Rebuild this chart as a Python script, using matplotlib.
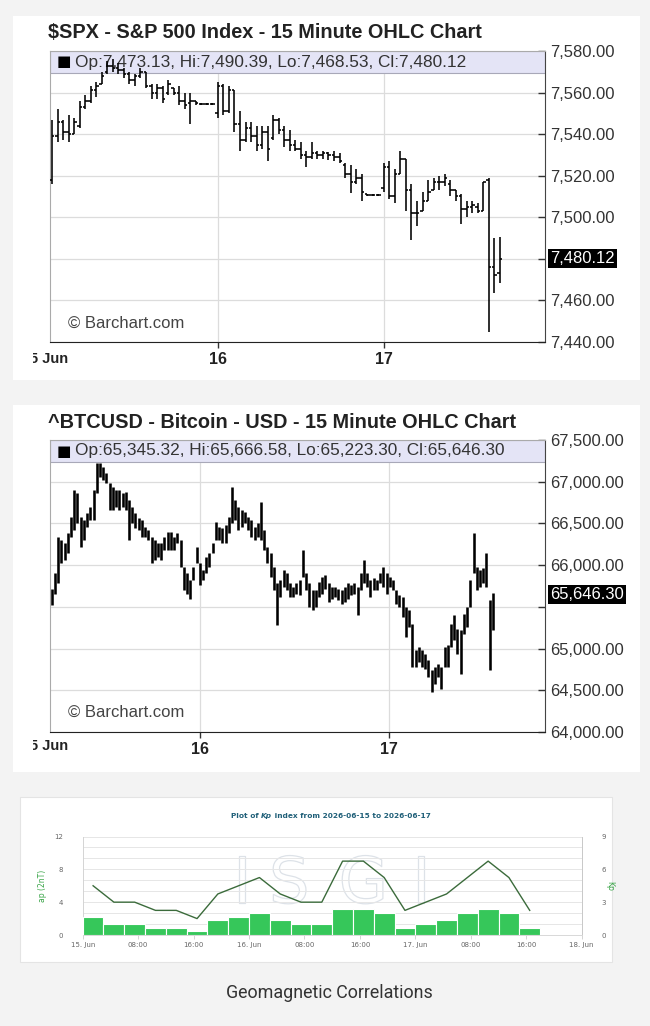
import matplotlib
matplotlib.use('Agg')
import matplotlib.pyplot as plt
from matplotlib.patches import Rectangle
from matplotlib.transforms import Bbox, blended_transform_factory
import matplotlib.patheffects as pe
import numpy as np

# ---------------- data ----------------
spx_open = [7518, 7539, 7546, 7541, 7540, 7544, 7553, 7556, 7561, 7564,
            7570, 7573, 7572, 7571, 7569, 7566, 7568, 7570, 7563, 7560,
            7562, 7560, 7562, 7560, 7556, 7555, 7556, 7554.5, 7554.5, 7554.5,
            7550, 7563, 7551, 7561, 7545, 7537, 7543, 7539, 7535, 7541,
            7538, 7547, 7542, 7537, 7535, 7533, 7530, 7529, 7531, 7530,
            7531, 7530, 7529, 7525, 7521, 7517, 7519, 7511, 7510.5, 7510.5,
            7514, 7524, 7510, 7521, 7528, 7513, 7502, 7503, 7508, 7513,
            7517, 7517, 7516, 7513, 7510, 7504, 7505, 7505, 7503, 7518,
            7476, 7473.13]
spx_high = [7547, 7552, 7547, 7549, 7548, 7556, 7559, 7563, 7565, 7570,
            7575, 7576, 7574, 7572, 7570, 7569, 7572, 7570, 7564, 7564,
            7563, 7566, 7562, 7563, 7560, 7560, 7556, 7555, 7555, 7555,
            7565, 7564, 7563, 7561, 7551, 7546, 7546, 7544, 7544, 7544,
            7549, 7548, 7544, 7542, 7537, 7536, 7532, 7536, 7532, 7532,
            7531.6, 7532, 7531, 7526, 7525, 7523, 7521, 7511, 7511, 7511,
            7526, 7527, 7523, 7532, 7528, 7516, 7508, 7512, 7518, 7519,
            7520, 7521, 7518, 7513, 7511, 7508, 7508, 7507, 7517, 7519,
            7490, 7490.39]
spx_low = [7516, 7536, 7537, 7536, 7540, 7543, 7552, 7555, 7558, 7564,
           7569, 7570, 7569, 7567, 7564, 7563, 7567, 7562, 7557, 7557,
           7555, 7559, 7559, 7554, 7552, 7545, 7554, 7554, 7554, 7554,
           7548, 7549, 7550, 7541, 7532, 7536, 7536, 7532, 7533, 7527,
           7537, 7540, 7534, 7532, 7532, 7528, 7524, 7528, 7528, 7528,
           7527.6, 7527, 7526, 7519, 7511.5, 7516, 7508, 7510, 7510, 7510,
           7512, 7509, 7507, 7521, 7503, 7489, 7496, 7503, 7508, 7513,
           7513, 7515, 7510, 7508, 7497, 7500, 7502, 7502, 7503, 7445,
           7463.5, 7468.53]
spx_close = [7539, 7546, 7541, 7540, 7546, 7553, 7556, 7561, 7563, 7568,
             7573, 7572, 7571, 7569, 7566, 7568, 7570, 7563, 7560, 7562,
             7557, 7564, 7560, 7556, 7554, 7556, 7555, 7554.5, 7554.5, 7554.5,
             7563, 7551, 7561, 7545, 7537, 7543, 7539, 7535, 7541, 7533,
             7547, 7542, 7537, 7535, 7533, 7530, 7529, 7531, 7530, 7531,
             7530, 7529, 7527, 7521, 7517, 7519, 7512, 7510.5, 7510.5, 7510.5,
             7524, 7510, 7521, 7528, 7513, 7502, 7502, 7508, 7512, 7517,
             7517, 7519, 7513, 7510, 7504, 7505, 7506, 7503, 7517, 7476,
             7472, 7480.12]
spx_yticks = [7440, 7460, 7480, 7500, 7520, 7540, 7560, 7580]
spx_day_ticks = [30, 60]
spx_day_labels = ['16', '17']
spx_legend = 'Op:7,473.13, Hi:7,490.39, Lo:7,468.53, Cl:7,480.12'
spx_last = 7480.12

btc_high = [65720, 65900, 66340, 66300, 66260, 66380, 66580, 66900, 66860, 66580,
            66540, 66620, 66700, 66900, 67220, 67220, 67180, 67100, 66980, 66940,
            66900, 66900, 66860, 66880, 66780, 66700, 66620, 66560, 66540, 66460,
            66420, 66340, 66300, 66260, 66260, 66340, 66400, 66400, 66340, 66380,
            66300, 65980, 65900, 65820, 65980, 66220, 66020, 65940, 66100, 66140,
            66260, 66520, 66460, 66440, 66480, 66580, 66940, 66780, 66700, 66660,
            66640, 66580, 66540, 66460, 66500, 66760, 66420, 66220, 66140, 65980,
            65780, 65820, 65940, 65900, 65780, 65740, 65780, 65820,
            66180, 65900, 65780, 65700, 65700, 65800, 65860, 65880, 65780, 65740,
            65740, 65720, 65700, 65740, 65780, 65760, 65780, 65740, 65900, 66060,
            65900, 65820, 65840, 65820, 65900, 65980, 65900, 65860, 65820, 65700,
            65640, 65620, 65500, 65460, 65300, 64980, 65020, 64980, 64940, 64860,
            64740, 64780, 64820, 64780, 65020, 65040, 65300, 65400, 65240, 65220,
            65420, 65500, 65820, 66380, 65980, 65940, 65960, 66140, 65580, 65666.58]
btc_low = [65520, 65660, 65780, 66020, 66060, 66140, 66340, 66420, 66500, 66220,
           66300, 66460, 66540, 66540, 66860, 67060, 67020, 66980, 66660, 66660,
           66700, 66660, 66700, 66660, 66300, 66500, 66440, 66420, 66340, 66340,
           66300, 66020, 66060, 66100, 66060, 66180, 66180, 66180, 66180, 66260,
           65980, 65700, 65660, 65600, 65820, 66020, 65760, 65820, 65900, 65980,
           66140, 66300, 66300, 66260, 66260, 66380, 66500, 66540, 66420, 66460,
           66500, 66420, 66340, 66300, 66340, 66300, 66180, 66020, 65860, 65700,
           65280, 65620, 65740, 65700, 65620, 65620, 65660, 65640,
           65860, 65700, 65500, 65460, 65500, 65620, 65660, 65720, 65560, 65600,
           65620, 65580, 65540, 65560, 65600, 65640, 65660, 65400, 65700, 65780,
           65740, 65620, 65700, 65700, 65780, 65740, 65660, 65740, 65700, 65540,
           65500, 65380, 65140, 65260, 64780, 64780, 64840, 64780, 64760, 64660,
           64480, 64580, 64660, 64520, 64780, 64780, 65020, 65100, 64940, 64700,
           65180, 65260, 65500, 65900, 65700, 65740, 65780, 65740, 64740, 65223.30]
btc_yticks = [64000, 64500, 65000, 65500, 66000, 66500, 67000, 67500]
btc_day_ticks = [46.1, 104.8]
btc_day_labels = ['16', '17']
btc_legend = 'Op:65,345.32, Hi:65,666.58, Lo:65,223.30, Cl:65,646.30'
btc_last = 65646.30

kp_values = [5/3, 1, 1, 2/3, 2/3, 1/3, 4/3, 5/3,
             2, 4/3, 1, 1, 7/3, 7/3, 2, 2/3,
             1, 4/3, 2, 7/3, 2, 2/3]
ap_values = [6, 4, 4, 3, 3, 2, 5, 6,
             7, 5, 4, 4, 9, 9, 7, 3,
             4, 5, 7, 9, 7, 3]
kp_xticks = [0, 8, 16, 24, 32, 40, 48, 56, 64, 72]
kp_xlabels = ['15. Jun', '08:00', '16:00', '16. Jun', '08:00', '16:00',
              '17. Jun', '08:00', '16:00', '18. Jun']

# ---------------- figure ----------------
W, H = 650, 1026
fig = plt.figure(figsize=(6.5, 10.26), dpi=100, facecolor='#f3f3f3')
BC = 'Liberation Sans'


def fx(x):
    return x / W


def fy(y):
    return 1 - y / H


def panel(x0, y0, x1, y1, ec='none'):
    fig.add_artist(Rectangle((fx(x0), fy(y1)), fx(x1) - fx(x0), fy(y0) - fy(y1),
                             transform=fig.transFigure, facecolor='white',
                             edgecolor=ec, lw=0.8, zorder=0))


panel(13, 16, 640, 380)
panel(13, 405, 640, 772)
panel(20, 797, 612, 962, ec='#e4e4e4')


def barchart_axes(top, bottom, xlim, ylim, yticks, day_ticks, day_labels,
                  title, title_y, legend, last, hidden_tick, copy_y,
                  first_label_y):
    ax = fig.add_axes([fx(50), fy(bottom), fx(545) - fx(50), fy(top) - fy(bottom)])
    ax.set_facecolor('white')
    ax.set_xlim(*xlim)
    ax.set_ylim(*ylim)
    ax.yaxis.tick_right()
    ax.set_yticks(yticks)
    ax.set_yticklabels(['' if v == hidden_tick else f'{v:,.2f}' for v in yticks],
                       fontsize=12, family=BC, color='#333333')
    ax.tick_params(axis='y', direction='in', length=5, width=1, pad=4,
                   color='#333333')
    ax.set_xticks(day_ticks)
    ax.set_xticklabels(day_labels, fontsize=11.5, family=BC, fontweight='bold',
                       color='#222222')
    ax.tick_params(axis='x', direction='out', length=4, width=1, pad=3,
                   color='#333333')
    ax.grid(True, color='#dcdcdc', lw=0.9)
    ax.set_axisbelow(True)
    ax.spines['left'].set_color('#aaaaaa')
    ax.spines['top'].set_color('#aaaaaa')
    ax.spines['right'].set_color('#444444')
    ax.spines['bottom'].set_color('#222222')
    hfrac = 22 / (bottom - top)
    ax.add_patch(Rectangle((0, 1 - hfrac), 1, hfrac, transform=ax.transAxes,
                           facecolor='#e4e4f6', edgecolor='#a8a8b8', lw=0.8,
                           zorder=1.5))
    wpx = 495
    ax.text(7 / wpx, 1 - hfrac / 2, '\u25A0', transform=ax.transAxes,
            fontsize=11, va='center', ha='left', color='black', zorder=1.6,
            family='DejaVu Sans')
    ax.text(25 / wpx, 1 - hfrac / 2, legend, transform=ax.transAxes,
            fontsize=12.4, va='center', ha='left', color='#333333',
            family=BC, zorder=1.6)
    ax.text(18 / wpx, (bottom - copy_y) / (bottom - top), '\u00A9 Barchart.com',
            transform=ax.transAxes, fontsize=12, va='center', ha='left',
            color='#444444', family=BC, zorder=1.6)
    tr = blended_transform_factory(ax.transAxes, ax.transData)
    ax.text(1.01, last, f'{last:,.2f}', transform=tr, fontsize=12,
            family=BC, color='white', va='center', ha='left',
            bbox=dict(facecolor='black', edgecolor='none', pad=1.6),
            clip_on=False, zorder=5)
    fig.text(fx(48), fy(title_y), title, fontsize=14.3, fontweight='bold',
             family=BC, color='#222222', va='center', ha='left')
    t = fig.text(fx(68), fy(first_label_y), '15 Jun', fontsize=10.5,
                 fontweight='bold', family=BC, color='#222222',
                 va='center', ha='right')
    t.set_clip_box(Bbox.from_extents(33, 0, W, H))
    t.set_clip_on(True)
    return ax


# SPX
ax1 = barchart_axes(51, 342, (-0.36, 89.15), (7440, 7580), spx_yticks,
                    spx_day_ticks, spx_day_labels,
                    '$SPX - S&P 500 Index - 15 Minute OHLC Chart', 33,
                    spx_legend, spx_last, 7480, 323, 359)
x1 = np.arange(len(spx_high))
ax1.vlines(x1, spx_low, spx_high, color='black', lw=1.15, zorder=3)
ax1.hlines(spx_open, x1 - 0.45, x1, color='black', lw=1.15, zorder=3)
ax1.hlines(spx_close, x1, x1 + 0.45, color='black', lw=1.15, zorder=3)

# BTC
ax2 = barchart_axes(440, 732, (-0.53, 153.2), (64000, 67500), btc_yticks,
                    btc_day_ticks, btc_day_labels,
                    '^BTCUSD - Bitcoin - USD - 15 Minute OHLC Chart', 423,
                    btc_legend, btc_last, 65500, 712, 746)
x2 = np.arange(len(btc_high))
ax2.vlines(x2, btc_low, btc_high, color='black', lw=1.85, zorder=3)

# ---------------- Kp plot ----------------
axk = fig.add_axes([fx(82.7), fy(935), fx(581.7) - fx(82.7), fy(836.5) - fy(935)])
axk.set_xlim(0, 72)
axk.set_ylim(0, 12)
axk.set_facecolor('none')
axk.set_yticks([0, 4, 8, 12])
axk.set_yticks(np.arange(0, 12.01, 4 / 3), minor=True)
axk.grid(True, axis='y', which='both', color='#e6e6e6', lw=0.7)
axk.set_axisbelow(True)
axk.tick_params(axis='y', which='both', length=0, pad=14, labelsize=5,
                labelcolor='#666666')
axk.set_xticks(kp_xticks)
axk.set_xticklabels(kp_xlabels, fontsize=5, color='#666666')
axk.tick_params(axis='x', length=3, width=0.6, color='#cccccc', pad=2)
axk.spines['top'].set_visible(False)
axk.spines['left'].set_color('#d4d4d4')
axk.spines['right'].set_color('#c8c8c8')
axk.spines['bottom'].set_color('#d8d8d8')
for sp in ['left', 'right', 'bottom']:
    axk.spines[sp].set_linewidth(0.7)
axk.set_ylabel('ap (2nT)', color='#3aa548', fontsize=5.5)
axk.yaxis.set_label_coords(-0.072, 0.5)

# watermark
for letter, xh in zip(['I', 'S', 'G', 'I'], [23.0, 29.8, 40.5, 48.8]):
    axk.text(xh, 6.1, letter, fontsize=46, family='DejaVu Sans', color='none',
             ha='center', va='center', zorder=0.5,
             path_effects=[pe.withStroke(linewidth=0.9, foreground='#dde2e8')])

ap_x = [1.5 + 3 * i for i in range(len(ap_values))]
axk.plot(ap_x, ap_values, color='#3b6b3b', lw=1.0, zorder=3)

axk2 = axk.twinx()
axk2.set_ylim(0, 9)
axk2.set_yticks([0, 3, 6, 9])
axk2.tick_params(axis='y', length=0, pad=14, labelsize=5, labelcolor='#666666')
for s in axk2.spines.values():
    s.set_visible(False)
kp_x = [3 * i for i in range(len(kp_values))]
axk2.bar(kp_x, kp_values, width=3, align='edge', color='#36c75a',
         edgecolor='white', lw=0.8, zorder=2)
axk2.set_ylabel('Kp', color='#3aa548', fontsize=5.5, rotation=270)
axk2.yaxis.set_label_coords(1.065, 0.5)

# title of Kp plot
tcol = '#1f5f78'
t1 = fig.text(fx(231), fy(815.7), 'Plot of ', fontsize=5.3, fontweight='bold',
              color=tcol, va='center', ha='left')
t2 = axk.annotate('Kp', xy=(1, 0), xycoords=t1, va='bottom', ha='left',
                  fontsize=5.3, fontweight='bold', style='italic', color=tcol,
                  annotation_clip=False)
axk.annotate(' index from 2026-06-15 to 2026-06-17', xy=(1, 0), xycoords=t2,
             va='bottom', ha='left', fontsize=5.3, fontweight='bold',
             color=tcol, annotation_clip=False)

fig.text(fx(329.5), fy(993), 'Geomagnetic Correlations', fontsize=12.9,
         family='Roboto', color='#333333', ha='center', va='center')

fig.savefig('out.png', dpi=100, facecolor=fig.get_facecolor())
